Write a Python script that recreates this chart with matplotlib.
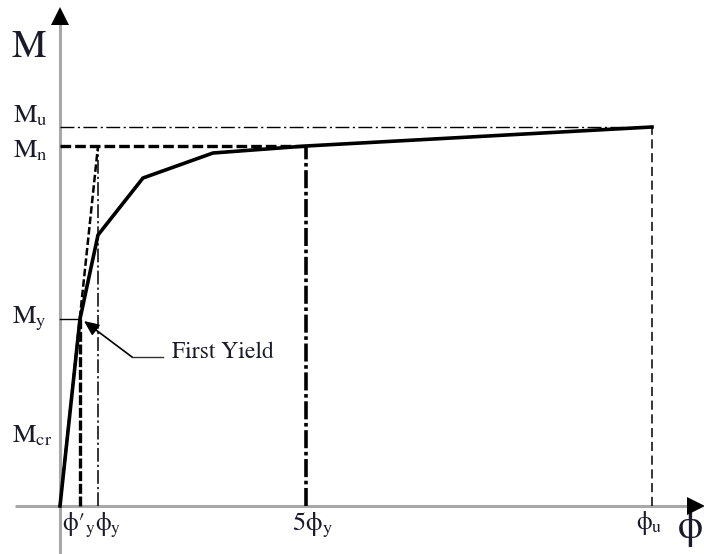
import matplotlib
matplotlib.use("Agg")
import matplotlib.pyplot as plt

# moment-curvature values (arbitrary units)
phi_curve = [0, 20, 38, 83, 153, 246, 592]
m_curve = [0, 187, 271, 328, 353, 360, 379]

phi_yp = 20      # phi'_y (first yield)
phi_y = 38       # phi_y (idealised yield)
phi_5y = 246     # 5 phi_y
phi_u = 592      # ultimate curvature

m_cr = 76
m_y = 187
m_n = 360
m_u = 379

plt.rcParams['mathtext.fontset'] = 'stix'
plt.rcParams['font.family'] = ['STIXGeneral', 'DejaVu Serif']

fig = plt.figure(figsize=(7.04, 5.54), dpi=100)
ax = fig.add_axes([0, 0, 1, 1])
ax.set_xlim(-60, 644)
ax.set_ylim(-48, 506)
ax.axis('off')

txt = '#1a1a2a'
grey = '#a8a8a8'

# axes with arrow heads
ax.plot([0, 0], [-48, 482], color=grey, lw=2.2, solid_capstyle='butt', zorder=1)
ax.plot([-45, 632], [0, 0], color=grey, lw=2.2, solid_capstyle='butt', zorder=1)
ax.plot([0], [490], marker='^', ms=13, color='black', mew=0, zorder=5)
ax.plot([636], [0], marker='>', ms=13, color='black', mew=0, zorder=5)

# reference lines
ax.plot([0, phi_u], [m_u, m_u], color='black', lw=1.0, dashes=[10, 2.5, 1.5, 2.5])
ax.plot([0, phi_5y], [m_n, m_n], color='black', lw=2.4, dashes=[3.2, 1.2])
ax.plot([0, phi_y], [0, m_n], color='black', lw=1.8, dashes=[3, 1.2])
ax.plot([0, phi_yp], [m_y, m_y], color='black', lw=1.0)
ax.plot([phi_yp, phi_yp], [0, m_y], color='black', lw=2.4, dashes=[3, 0.8])
ax.plot([phi_y, phi_y], [0, m_n], color='black', lw=1.1, dashes=[9, 2, 1.5, 2])
ax.plot([phi_5y, phi_5y], [0, m_n], color='black', lw=2.6, dashes=[5, 1, 1, 1])
ax.plot([phi_u, phi_u], [0, m_u], color='black', lw=1.1, dashes=[6, 3])

# actual moment-curvature curve
ax.plot(phi_curve, m_curve, color='black', lw=2.6, solid_joinstyle='miter', zorder=4)

# first yield callout
ax.plot([103, 72], [149, 149], color='#333333', lw=1.0)
ax.annotate('', xy=(phi_yp + 4, m_y - 2), xytext=(72, 149),
            arrowprops=dict(arrowstyle='-|>,head_length=0.9,head_width=0.4',
                            color='black', lw=1.2, shrinkA=0, shrinkB=0))
ax.text(112, 154, 'First Yield', fontsize=17, color=txt, ha='left', va='center')

# y labels
ax.text(-48, 449, 'M', fontsize=28, color=txt, ha='left', va='baseline')
ax.text(-47, m_u + 5, r'M$_\mathrm{u}$', fontsize=19, color=txt, ha='left', va='baseline')
ax.text(-47, m_n - 11, r'M$_\mathrm{n}$', fontsize=19, color=txt, ha='left', va='baseline')
ax.text(-48, m_y - 4, r'M$_\mathrm{y}$', fontsize=19, color=txt, ha='left', va='baseline')
ax.text(-48, m_cr - 12, r'M$_\mathrm{cr}$', fontsize=19, color=txt, ha='left', va='baseline')

# x labels
ax.text(phi_yp - 18, -5, '\u03d5\u2032$_\\mathrm{y}$', fontsize=18, color=txt, ha='left', va='top')
ax.text(phi_y - 3, -5, '\u03d5$_\\mathrm{y}$', fontsize=18, color=txt, ha='left', va='top')
ax.text(phi_5y - 14, -5, '5\u03d5$_\\mathrm{y}$', fontsize=19, color=txt, ha='left', va='top')
ax.text(phi_u - 16, -3, '\u03d5$_\\mathrm{u}$', fontsize=18, color=txt, ha='left', va='top')
ax.text(618, -4, '\u03d5', fontsize=29, color=txt, ha='left', va='top')

fig.savefig('out.png', dpi=100)
